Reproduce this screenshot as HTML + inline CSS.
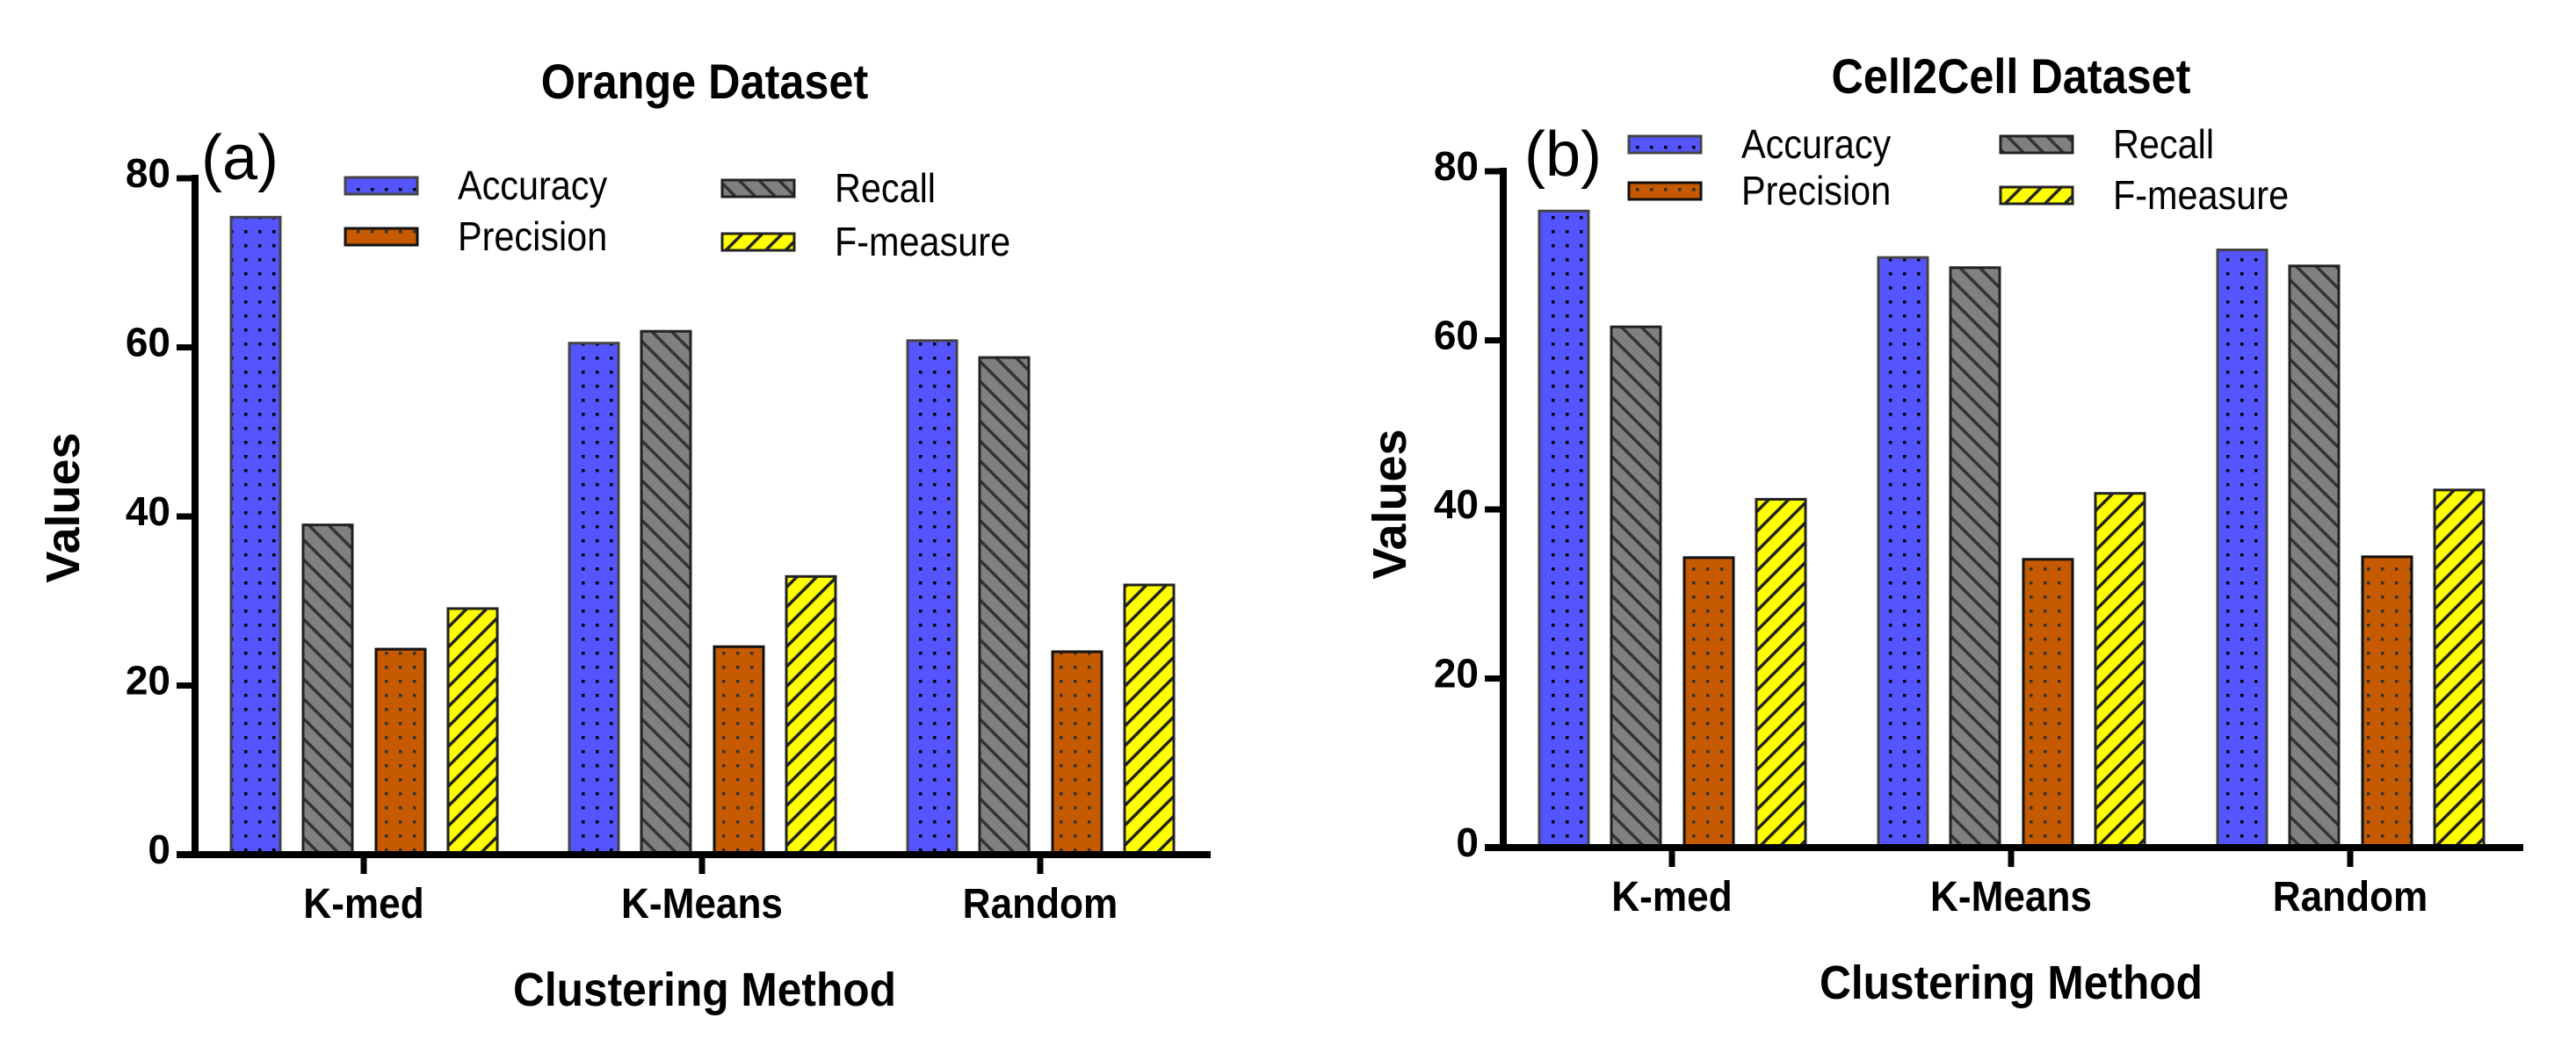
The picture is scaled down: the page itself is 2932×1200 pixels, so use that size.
<!DOCTYPE html>
<html><head><meta charset="utf-8"><style>
html,body{margin:0;padding:0;background:#fff;}
svg{display:block;font-family:"Liberation Sans",Arial,sans-serif;}
</style></head><body>
<svg id="fig" width="2932" height="1200" viewBox="0 0 2932 1200">
<defs>
<pattern id="dotsB" width="16" height="16" patternUnits="userSpaceOnUse"><rect width="16" height="16" fill="#5555ff"/><rect x="6" y="6" width="3.5" height="3.5" fill="#000"/></pattern>
<pattern id="dotsO" width="16" height="16" patternUnits="userSpaceOnUse"><rect width="16" height="16" fill="#c55a00"/><rect x="6" y="6" width="3.5" height="3.5" fill="#333"/></pattern>
<pattern id="hatchG" width="16" height="16" patternUnits="userSpaceOnUse" patternTransform="rotate(-45)"><rect width="16" height="16" fill="#808080"/><rect x="0" y="0" width="3.5" height="16" fill="#333"/></pattern>
<pattern id="hatchY" width="16" height="16" patternUnits="userSpaceOnUse" patternTransform="rotate(45)"><rect width="16" height="16" fill="#ffff00"/><rect x="0" y="0" width="3.5" height="16" fill="#222"/></pattern>
</defs>
</svg>
<script>
const categories = ["K-med", "K-Means", "Random"];
const seriesNames = ["Accuracy", "Recall", "Precision", "F-measure"];
const orangeAccuracy = [75.4, 60.5, 60.8];
const orangeRecall = [39.0, 61.9, 58.8];
const orangePrecision = [24.3, 24.6, 24.0];
const orangeFmeasure = [29.1, 32.9, 31.9];
const cellAccuracy = [75.3, 69.8, 70.7];
const cellRecall = [61.6, 68.6, 68.8];
const cellPrecision = [34.3, 34.1, 34.4];
const cellFmeasure = [41.2, 41.9, 42.3];
const yTicks = [0, 20, 40, 60, 80];

const NS = "http://www.w3.org/2000/svg";
const svg = document.getElementById("fig");
function mk(tag, attrs, parent, text) {
  const e = document.createElementNS(NS, tag);
  for (const k in attrs) e.setAttribute(k, attrs[k]);
  if (text !== undefined) e.textContent = text;
  (parent || svg).appendChild(e);
  return e;
}
const fills = ["url(#dotsB)", "url(#hatchG)", "url(#dotsO)", "url(#hatchY)"];
const strokes = ["#444", "#222", "#111", "#222"];
const offsets = [-123, -41, 42, 124];

function chart(cfg) {
  const g = mk("g", {});
  
  
  const y = v => cfg.y0 - (v / 80) * (cfg.y0 - cfg.y80);
  const x = i => cfg.c0 + i * cfg.step;
  const t = mk("text", {x: cfg.titleX, y: cfg.titleY, "font-size": 56, "font-weight": "bold", "text-anchor": "middle", transform: `translate(${cfg.titleX},0) scale(0.9,1) translate(${-cfg.titleX},0)`}, g, cfg.title);
  
  
  const p = mk("text", {x: cfg.panelX, y: cfg.panelY, "font-size": 72}, g, cfg.panel);
  
  
  const data = cfg.data;
  for (let s = 0; s < 4; s++) {
    for (let i = 0; i < categories.length; i++) {
      const v = data[s][i];
      const r = mk("rect", {x: x(i) + offsets[s] - 28, y: y(v), width: 56, height: cfg.y0 - y(v), fill: fills[s], stroke: strokes[s], "stroke-width": 3}, g);
      
      
    }
  }
  const ya = mk("line", {x1: cfg.ax, y1: cfg.y80 - 4, x2: cfg.ax, y2: cfg.y0 + 4, stroke: "#000", "stroke-width": 8}, g);
  
  
  const xa = mk("line", {x1: cfg.ax - 21, y1: cfg.y0, x2: cfg.xEnd, y2: cfg.y0, stroke: "#000", "stroke-width": 8}, g);
  
  
  yTicks.forEach(v => {
    mk("line", {x1: cfg.ax - 21, y1: y(v), x2: cfg.ax, y2: y(v), stroke: "#000", "stroke-width": 7}, g);
    const tl = mk("text", {x: cfg.ax - 28, y: y(v) + 10, "font-size": 46, "font-weight": "bold", "text-anchor": "end"}, g, String(v));
    
    
  });
  categories.forEach((c, i) => {
    mk("line", {x1: x(i), y1: cfg.y0, x2: x(i), y2: cfg.y0 + 22, stroke: "#000", "stroke-width": 7}, g);
    const cl = mk("text", {x: x(i), y: cfg.y0 + 72, "font-size": 48, "font-weight": "bold", "text-anchor": "middle", transform: `translate(${x(i)},0) scale(0.92,1) translate(${-x(i)},0)`}, g, c);
    
    
  });
  const xt = mk("text", {x: cfg.titleX, y: cfg.y0 + 172, "font-size": 54, "font-weight": "bold", "text-anchor": "middle", transform: `translate(${cfg.titleX},0) scale(0.92,1) translate(${-cfg.titleX},0)`}, g, "Clustering Method");
  
  
  const yt = mk("text", {x: 0, y: 0, "font-size": 54, "font-weight": "bold", "text-anchor": "middle", transform: `translate(${cfg.ytX},${cfg.ytY}) rotate(-90)`}, g, "Values");
  
  
  const L = cfg.legend;
  const order = [[0, L.c1, L.r1], [2, L.c1, L.r2], [1, L.c2, L.r1b], [3, L.c2, L.r2b]];
  order.forEach(([s, cx, ry]) => {
    const lg = mk("g", {}, g);
    
    
    mk("rect", {x: cx, y: ry - 9, width: 82, height: 19, fill: fills[s], stroke: strokes[s], "stroke-width": 3}, lg);
    mk("text", {x: cx + 128, y: ry + 16, "font-size": 46, transform: `translate(${cx + 128},0) scale(0.9,1) translate(${-(cx + 128)},0)`}, lg, seriesNames[s]);
  });
}

chart({name: "orange-chart", title: "Orange Dataset", titleX: 802, titleY: 112, panel: "(a)", panelX: 229, panelY: 204,
  ax: 222, y0: 973, y80: 203, c0: 414, step: 385, xEnd: 1378, ytX: 90, ytY: 578,
  data: [orangeAccuracy, orangeRecall, orangePrecision, orangeFmeasure],
  legend: {c1: 393, c2: 822, r1: 211, r2: 269, r1b: 214, r2b: 275}});
chart({name: "cell2cell-chart", title: "Cell2Cell Dataset", titleX: 2289, titleY: 106, panel: "(b)", panelX: 1735, panelY: 200,
  ax: 1711, y0: 965, y80: 195, c0: 1903, step: 386, xEnd: 2872, ytX: 1600, ytY: 574,
  data: [cellAccuracy, cellRecall, cellPrecision, cellFmeasure],
  legend: {c1: 1854, c2: 2277, r1: 164, r2: 217, r1b: 164, r2b: 222}});
</script>
</body></html>
